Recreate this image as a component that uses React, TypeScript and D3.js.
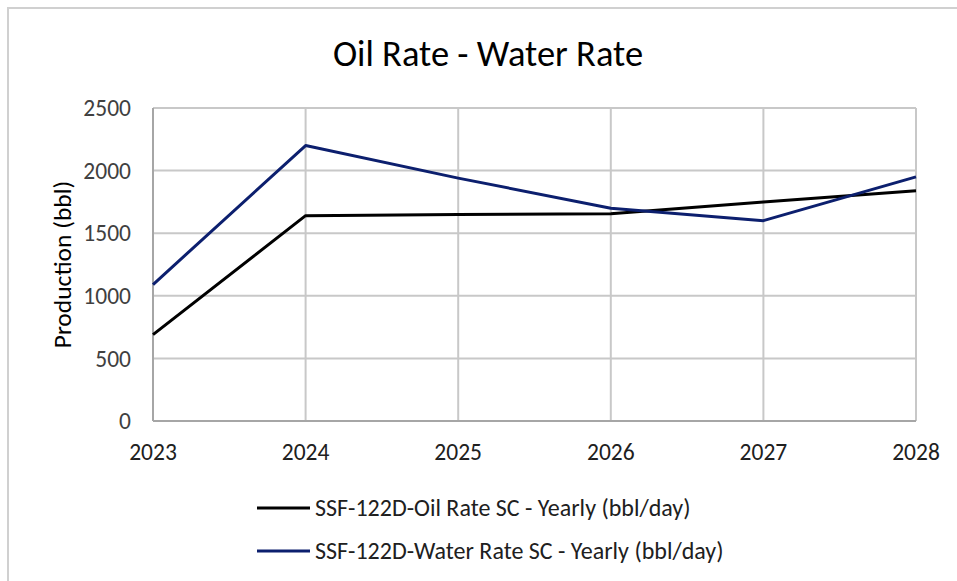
import { useEffect, useRef } from "react"
import * as d3 from "d3"

const years = [2023, 2024, 2025, 2026, 2027, 2028]
const oilRate = [690, 1640, 1650, 1655, 1750, 1840]
const waterRate = [1090, 2200, 1940, 1700, 1600, 1950]
const yTicks = [0, 500, 1000, 1500, 2000, 2500]
const seriesNames = [
  "SSF-122D-Oil Rate SC - Yearly (bbl/day)",
  "SSF-122D-Water Rate SC - Yearly (bbl/day)",
]
const seriesColors = ["#000000", "#0c1f6e"]

const FONT = "Carlito, Calibri, 'Open Sans', sans-serif"

const App = () => {
  const svgRef = useRef<SVGSVGElement | null>(null)

  useEffect(() => {
    if (!svgRef.current) return
    const svg = d3.select(svgRef.current)
    svg.selectAll("*").remove()

    const width = 957
    const height = 581
    const margin = { top: 108, right: 41, bottom: 160, left: 153 }
    const innerWidth = width - margin.left - margin.right
    const innerHeight = height - margin.top - margin.bottom

    // chart area border (only top/left visible in the crop)
    svg.append("rect").attr("width", width).attr("height", height).attr("fill", "#fff")
    svg
      .append("path")
      .attr("d", `M8,${height} L8,8 L${width},8`)
      .attr("fill", "none")
      .attr("stroke", "#d0d0d0")
      .attr("stroke-width", 2)

    const x = d3.scaleLinear().domain([years[0], years[years.length - 1]]).range([0, innerWidth])
    const y = d3.scaleLinear().domain([0, 2500]).range([innerHeight, 0])

    const g = svg.append("g").attr("transform", `translate(${margin.left},${margin.top})`)

    // gridlines
    g.selectAll(".hgrid")
      .data(yTicks.slice(1))
      .join("line")
      .attr("x1", 0)
      .attr("x2", innerWidth)
      .attr("y1", (d) => y(d))
      .attr("y2", (d) => y(d))
      .attr("stroke", "#c8c8c8")
      .attr("stroke-width", 2)

    g.selectAll(".vgrid")
      .data(years.slice(1))
      .join("line")
      .attr("x1", (d) => x(d))
      .attr("x2", (d) => x(d))
      .attr("y1", 0)
      .attr("y2", innerHeight)
      .attr("stroke", "#c8c8c8")
      .attr("stroke-width", 2)

    // axes lines
    g.append("line")
      .attr("x1", 0)
      .attr("x2", 0)
      .attr("y1", 0)
      .attr("y2", innerHeight)
      .attr("stroke", "#a6a6a6")
      .attr("stroke-width", 2)
    g.append("line")
      .attr("x1", 0)
      .attr("x2", innerWidth)
      .attr("y1", innerHeight)
      .attr("y2", innerHeight)
      .attr("stroke", "#a6a6a6")
      .attr("stroke-width", 2)

    // tick labels
    g.selectAll(".ylabel")
      .data(yTicks)
      .join("text")
      .attr("x", -22)
      .attr("y", (d) => y(d))
      .attr("dy", "0.35em")
      .attr("text-anchor", "end")
      .attr("font-family", FONT)
      .attr("font-size", 23.5)
      .attr("fill", "#404040")
      .text((d) => d)

    g.selectAll(".xlabel")
      .data(years)
      .join("text")
      .attr("x", (d) => x(d))
      .attr("y", innerHeight + 39)
      .attr("text-anchor", "middle")
      .attr("font-family", FONT)
      .attr("font-size", 23.5)
      .attr("fill", "#202020")
      .text((d) => d)

    // axis title
    g.append("text")
      .attr("transform", `translate(${62 - margin.left},${innerHeight / 2}) rotate(-90)`)
      .attr("dy", "0.35em")
      .attr("text-anchor", "middle")
      .attr("font-family", FONT)
      .attr("font-size", 25.5)
      .attr("fill", "#000")
      .text("Production (bbl)")

    // title
    svg
      .append("text")
      .attr("x", 488)
      .attr("y", 66)
      .attr("text-anchor", "middle")
      .attr("font-family", FONT)
      .attr("font-size", 36.5)
      .attr("fill", "#000")
      .text("Oil Rate - Water Rate")

    // lines
    const line = d3
      .line<number>()
      .x((_, i) => x(years[i]))
      .y((d) => y(d))

    const series = [oilRate, waterRate]
    g.selectAll(".series")
      .data(series)
      .join("path")
      .attr("d", (d) => line(d))
      .attr("fill", "none")
      .attr("stroke", (_, i) => seriesColors[i])
      .attr("stroke-width", 3)
      .attr("stroke-linejoin", "round")

    // legend
    const legend = svg.append("g")
    const legendY = [508, 551]
    seriesNames.forEach((name, i) => {
      legend
        .append("line")
        .attr("x1", 257)
        .attr("x2", 310)
        .attr("y1", legendY[i])
        .attr("y2", legendY[i])
        .attr("stroke", seriesColors[i])
        .attr("stroke-width", 3)
      legend
        .append("text")
        .attr("x", 315)
        .attr("y", legendY[i])
        .attr("dy", "0.35em")
        .attr("font-family", FONT)
        .attr("font-size", 24)
        .attr("fill", "#202020")
        .text(name)
    })
  }, [])

  return (
    <svg
      ref={svgRef}
      width={957}
      height={581}
      style={{ position: "absolute", left: 0, top: 0, display: "block" }}
    />
  )
}

export default App
